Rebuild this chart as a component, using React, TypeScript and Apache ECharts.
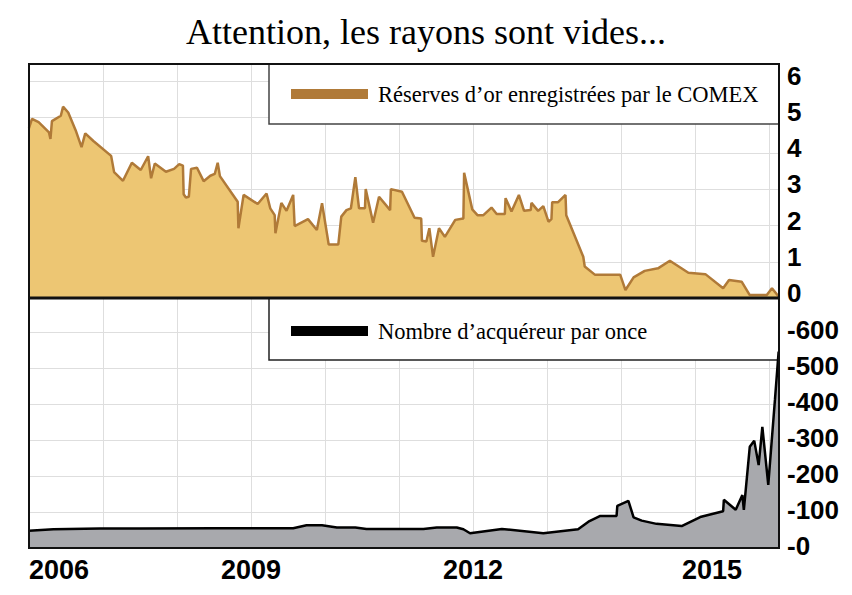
import React, { useEffect, useRef } from "react";
import * as echarts from "echarts";

const TITLE = "Attention, les rayons sont vides...";
const LEGEND_GOLD = "Réserves d’or enregistrées par le COMEX";
const LEGEND_BUYERS = "Nombre d’acquéreur par once";
const YEAR_LABELS = [2006, 2009, 2012, 2015];
const GOLD_TICKS = [0, 1, 2, 3, 4, 5, 6];
const BUYER_TICKS = [0, 100, 200, 300, 400, 500, 600];

// [year, value] – COMEX registered gold (millions of oz)
const goldReserves: [number, number][] = [
  [2006.0, 4.7], [2006.04, 4.95], [2006.13, 4.86], [2006.27, 4.58], [2006.29, 4.4], [2006.31, 4.89],
  [2006.43, 5.04], [2006.46, 5.29], [2006.53, 5.13], [2006.63, 4.64], [2006.71, 4.17], [2006.76, 4.55],
  [2006.87, 4.34], [2007.11, 3.93], [2007.15, 3.48], [2007.27, 3.24], [2007.39, 3.74], [2007.51, 3.54],
  [2007.61, 3.92], [2007.65, 3.31], [2007.7, 3.72], [2007.85, 3.49], [2007.96, 3.57], [2008.03, 3.7],
  [2008.08, 3.66], [2008.09, 2.87], [2008.12, 2.78], [2008.16, 2.8], [2008.19, 3.57], [2008.27, 3.6],
  [2008.36, 3.23], [2008.45, 3.38], [2008.51, 3.43], [2008.55, 3.74], [2008.58, 3.37], [2008.82, 2.66],
  [2008.83, 1.93], [2008.9, 2.85], [2009.09, 2.6], [2009.21, 2.89], [2009.26, 2.48], [2009.32, 2.29],
  [2009.33, 1.79], [2009.41, 2.63], [2009.48, 2.41], [2009.57, 2.85], [2009.59, 1.99], [2009.77, 2.18],
  [2009.89, 1.88], [2009.96, 2.62], [2010.05, 1.48], [2010.18, 1.48], [2010.22, 2.25], [2010.29, 2.43],
  [2010.35, 2.48], [2010.41, 3.34], [2010.46, 2.48], [2010.54, 2.48], [2010.55, 3.01], [2010.65, 2.08],
  [2010.73, 2.8], [2010.88, 2.43], [2010.89, 3.01], [2011.04, 2.94], [2011.21, 2.22], [2011.3, 2.2],
  [2011.31, 1.58], [2011.37, 1.56], [2011.41, 1.93], [2011.46, 1.14], [2011.54, 1.93], [2011.62, 1.69],
  [2011.76, 2.16], [2011.87, 2.2], [2011.88, 3.46], [2011.99, 2.45], [2012.06, 2.29], [2012.14, 2.29],
  [2012.25, 2.5], [2012.32, 2.32], [2012.43, 2.32], [2012.44, 2.76], [2012.52, 2.39], [2012.62, 2.85],
  [2012.69, 2.41], [2012.78, 2.43], [2012.79, 2.63], [2012.88, 2.41], [2012.95, 2.54], [2013.02, 2.11],
  [2013.06, 2.18], [2013.07, 2.65], [2013.15, 2.65], [2013.25, 2.85], [2013.26, 2.29], [2013.49, 1.14],
  [2013.51, 0.87], [2013.65, 0.64], [2013.99, 0.64], [2014.06, 0.22], [2014.17, 0.57], [2014.32, 0.75],
  [2014.5, 0.82], [2014.66, 1.03], [2014.91, 0.7], [2015.14, 0.66], [2015.38, 0.27], [2015.46, 0.5],
  [2015.63, 0.45], [2015.74, 0.08], [2015.97, 0.08], [2016.04, 0.27], [2016.13, 0.04],
];

// [year, value] – buyers per ounce
const buyersPerOunce: [number, number][] = [
  [2006.0, 48], [2006.33, 52], [2006.96, 54], [2007.5, 54], [2008.5, 55], [2009.57, 55], [2009.75, 63],
  [2009.96, 63], [2010.16, 57], [2010.41, 57], [2010.56, 53], [2011.33, 53], [2011.51, 57], [2011.78, 57],
  [2011.87, 52], [2011.96, 41], [2012.39, 53], [2012.95, 41], [2013.42, 52], [2013.56, 73], [2013.72, 89],
  [2013.94, 89], [2013.95, 117], [2014.1, 131], [2014.17, 85], [2014.28, 76], [2014.48, 67], [2014.82, 61],
  [2015.07, 86], [2015.38, 102], [2015.39, 134], [2015.55, 106], [2015.64, 147], [2015.66, 106],
  [2015.74, 281], [2015.8, 298], [2015.86, 230], [2015.91, 336], [2015.99, 175], [2016.08, 411],
  [2016.13, 545],
];

const X_MIN = 2006;
const X_MAX = 2016.135;
const GOLD_MAX = 6.47;
const BUYER_MAX = 694;

const SERIF = "'Liberation Serif', 'DejaVu Serif', serif";
const SANS = "'Liberation Sans', Arial, sans-serif";

export default function App() {
  const ref = useRef<HTMLDivElement>(null);

  useEffect(() => {
    if (!ref.current) return;
    const chart = echarts.init(ref.current, null, { renderer: "svg" });
    const gridColor = "#dedede";
    const left = 29, top = 64, width = 750, mid = 298, bottom = 548;

    const xLabel = (v: number) => {
      const r = Math.round(v);
      if (Math.abs(v - r) > 1e-6 || !YEAR_LABELS.includes(r)) return "";
      if (r === 2015) return "{s|" + r + "}";
      return "{n|" + r + "}";
    };
    const yStyle = { fontFamily: SANS, fontWeight: "bold", fontSize: 26, color: "#000" };
    const xStyle = { fontFamily: SANS, fontWeight: "bold", fontSize: 27, color: "#000" };

    chart.setOption({
      animation: false,
      backgroundColor: "#ffffff",
      title: {
        text: TITLE,
        left: "center",
        top: 9,
        textStyle: { fontFamily: SERIF, fontSize: 36, fontWeight: "normal", color: "#000" },
      },
      grid: [
        { left, top, width, height: mid - top },
        { left, top: mid, width, height: bottom - mid },
      ],
      xAxis: [
        {
          gridIndex: 0, type: "value", min: X_MIN, max: X_MAX, interval: 1,
          axisLine: { show: false }, axisTick: { show: false }, axisLabel: { show: false },
          splitLine: { show: true, lineStyle: { color: gridColor, width: 1 } },
        },
        {
          gridIndex: 1, type: "value", min: X_MIN, max: X_MAX, interval: 1,
          axisLine: { show: false }, axisTick: { show: false },
          splitLine: { show: true, lineStyle: { color: gridColor, width: 1 } },
          axisLabel: {
            formatter: xLabel, margin: 8, showMaxLabel: false, alignMinLabel: "left",
            ...xStyle,
            rich: { n: { ...xStyle }, s: { ...xStyle, padding: [0, 0, 0, 34] } },
          },
        },
      ],
      yAxis: [
        {
          gridIndex: 0, type: "value", position: "right", min: 0, max: GOLD_MAX, interval: 1,
          axisLine: { show: false }, axisTick: { show: false },
          splitLine: { show: true, lineStyle: { color: gridColor, width: 1 } },
          axisLabel: {
            showMaxLabel: false, margin: 8,
            formatter: (v: number) => (GOLD_TICKS.includes(v) ? "{t|" + v + "}" : ""),
            ...yStyle,
            rich: { t: { ...yStyle, padding: [0, 0, 10, 0] } },
          },
        },
        {
          gridIndex: 1, type: "value", position: "right", min: 0, max: BUYER_MAX, interval: 100,
          axisLine: { show: false }, axisTick: { show: false },
          splitLine: { show: true, lineStyle: { color: gridColor, width: 1 } },
          axisLabel: {
            showMaxLabel: false, margin: 8,
            formatter: (v: number) => (BUYER_TICKS.includes(v) ? "{t|-" + v + "}" : ""),
            ...yStyle,
            rich: { t: { ...yStyle, padding: [0, 0, 4, 0] } },
          },
        },
      ],
      series: [
        {
          name: LEGEND_GOLD, type: "line", xAxisIndex: 0, yAxisIndex: 0, data: goldReserves,
          symbol: "none", z: 3,
          lineStyle: { color: "#b07a38", width: 2.5 },
          areaStyle: { color: "#edc673", opacity: 1 },
        },
        {
          name: LEGEND_BUYERS, type: "line", xAxisIndex: 1, yAxisIndex: 1, data: buyersPerOunce,
          symbol: "none", z: 3,
          lineStyle: { color: "#000", width: 2.5 },
          areaStyle: { color: "#a8a9ad", opacity: 1 },
        },
      ],
      graphic: [
        { type: "rect", z: 1, shape: { x: 269, y: top, width: 779 - 269, height: 60 }, style: { fill: "#fff", stroke: "#444", lineWidth: 1.5 } },
        { type: "rect", z: 1, shape: { x: 291, y: 89, width: 77, height: 10 }, style: { fill: "#b07a38" } },
        { type: "text", z: 1, x: 378, y: 94, style: { text: LEGEND_GOLD, fill: "#000", font: "22.5px " + SERIF, verticalAlign: "middle" } },
        { type: "rect", z: 1, shape: { x: 269, y: mid, width: 779 - 269, height: 62 }, style: { fill: "#fff", stroke: "#222", lineWidth: 1.5 } },
        { type: "rect", z: 1, shape: { x: 291, y: 326, width: 77, height: 10 }, style: { fill: "#000" } },
        { type: "text", z: 1, x: 378, y: 331, style: { text: LEGEND_BUYERS, fill: "#000", font: "22.5px " + SERIF, verticalAlign: "middle" } },
        { type: "rect", z: 100, shape: { x: left, y: top, width, height: bottom - top }, style: { fill: "none", stroke: "#111", lineWidth: 2 } },
        { type: "line", z: 100, shape: { x1: left, y1: mid, x2: left + width, y2: mid }, style: { stroke: "#111", lineWidth: 3 } },
      ],
    });
    return () => chart.dispose();
  }, []);

  return <div ref={ref} style={{ position: "fixed", left: 0, top: 0, width: 852, height: 595 }} />;
}
